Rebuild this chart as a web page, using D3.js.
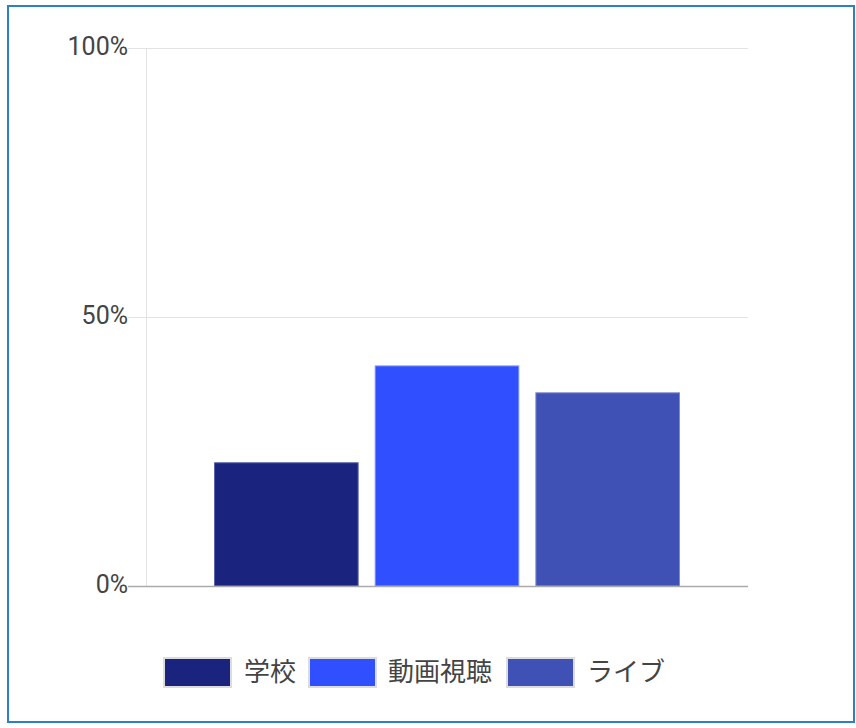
<!DOCTYPE html>
<html>
<head>
<meta charset="utf-8">
<script src="https://cdn.jsdelivr.net/npm/d3@7"></script>
<style>
  html, body { margin: 0; padding: 0; background: #fff; }
  svg { display: block; }
</style>
</head>
<body>
<svg id="chart" width="856" height="728"></svg>
<script>
// Share of respondents per activity
const series = ["学校", "動画視聴", "ライブ"];
const values = [23, 41, 36];
const colors = ["#1a237e", "#304ffe", "#3f51b5"];
const strokes = ["#5c63a8", "#7f93ff", "#7d89cf"];
const yTicks = [0, 50, 100];
const yTickLabels = ["0%", "50%", "100%"];

const svg = d3.select("#chart");

// outer frame
svg.append("rect")
  .attr("x", 8).attr("y", 6)
  .attr("width", 846).attr("height", 716)
  .attr("fill", "#fff")
  .attr("stroke", "#2f7fc6").attr("stroke-width", 2);

const plot = { left: 146, right: 748, top: 48, bottom: 586 };

const y = d3.scaleLinear().domain([0, 100]).range([plot.bottom, plot.top]);

// single category group, three series bands inside
const x0 = d3.scaleBand().domain([""]).range([plot.left, plot.right]).paddingOuter(0.146).paddingInner(0);
const x1 = d3.scaleBand().domain(series).range([x0(""), x0("") + x0.bandwidth()]).paddingInner(0.1).paddingOuter(0);

// gridlines
svg.append("g").selectAll("line")
  .data(yTicks.filter(t => t !== 0))
  .join("line")
  .attr("x1", plot.left - 18).attr("x2", plot.right)
  .attr("y1", d => Math.round(y(d)) + 0.5).attr("y2", d => Math.round(y(d)) + 0.5)
  .attr("stroke", "#e3e3e3").attr("stroke-width", 1);

// vertical axis line
svg.append("line")
  .attr("x1", plot.left + 0.5).attr("x2", plot.left + 0.5)
  .attr("y1", plot.top).attr("y2", plot.bottom)
  .attr("stroke", "#e3e3e3").attr("stroke-width", 1);

// bars
svg.append("g").selectAll("rect")
  .data(series)
  .join("rect")
  .attr("x", d => x1(d) + 0.5)
  .attr("y", (d, i) => y(values[i]) + 0.5)
  .attr("width", x1.bandwidth() - 1)
  .attr("height", (d, i) => y(0) - y(values[i]) - 0.5)
  .attr("fill", (d, i) => colors[i])
  .attr("stroke", (d, i) => strokes[i])
  .attr("stroke-width", 1);

// baseline
svg.append("line")
  .attr("x1", plot.left - 18).attr("x2", plot.right)
  .attr("y1", y(0) + 0.5).attr("y2", y(0) + 0.5)
  .attr("stroke", "#aaaaaa").attr("stroke-width", 1.5);

// y tick labels
svg.append("g").selectAll("text")
  .data(yTicks)
  .join("text")
  .attr("x", plot.left - 18)
  .attr("y", d => y(d) + 6.5)
  .attr("text-anchor", "end")
  .attr("font-family", "Roboto, sans-serif")
  .attr("font-size", 25)
  .attr("fill", "#444")
  .text((d, i) => yTickLabels[i]);

// legend
const legendItems = [
  { sx: 163, tx: 244 },
  { sx: 308, tx: 388 },
  { sx: 506, tx: 587 }
];
const lg = svg.append("g");
series.forEach((s, i) => {
  lg.append("rect")
    .attr("x", legendItems[i].sx + 1).attr("y", 658)
    .attr("width", 67).attr("height", 29)
    .attr("fill", colors[i])
    .attr("stroke", "#dcdcdc").attr("stroke-width", 2);
  lg.append("text")
    .attr("x", legendItems[i].tx).attr("y", 681)
    .attr("font-family", "'Noto Sans CJK JP', sans-serif")
    .attr("font-size", 26)
    .attr("fill", "#444")
    .text(s);
});
</script>
</body>
</html>
